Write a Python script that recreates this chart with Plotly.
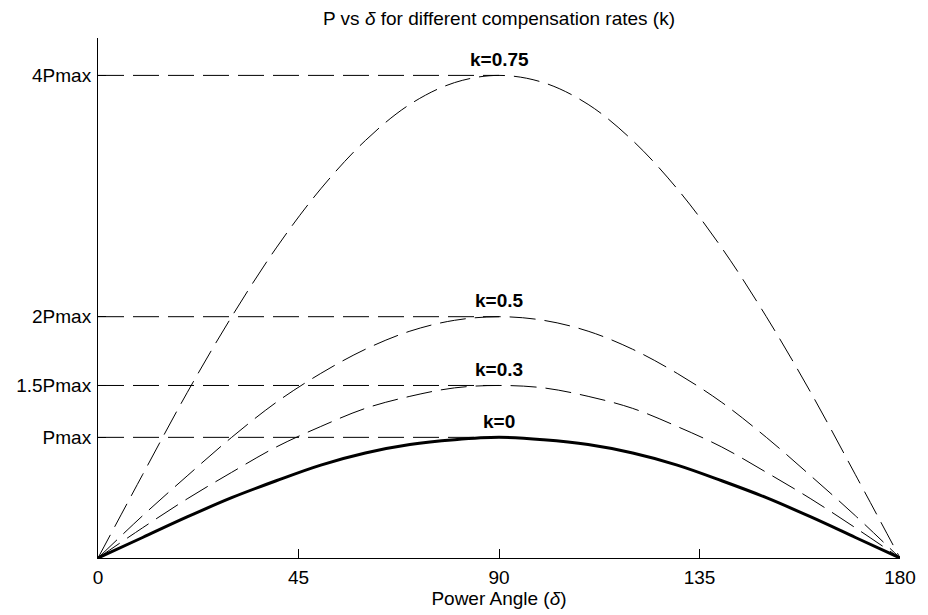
import plotly.graph_objects as go

# Power angle samples (degrees)
delta = [0, 10, 20, 30, 40, 50, 60, 70, 80, 90, 100, 110, 120, 130, 140, 150, 160, 170, 180]

# Power curves (in units of Pmax of the uncompensated line)
p_k0 = [0, 0.17, 0.34, 0.50, 0.64, 0.77, 0.87, 0.94, 0.98, 1.00,
        0.98, 0.94, 0.87, 0.77, 0.64, 0.50, 0.34, 0.17, 0]
p_k03 = [0, 0.25, 0.49, 0.71, 0.92, 1.09, 1.24, 1.34, 1.41, 1.43,
         1.41, 1.34, 1.24, 1.09, 0.92, 0.71, 0.49, 0.25, 0]
p_k05 = [0, 0.35, 0.68, 1.00, 1.29, 1.53, 1.73, 1.88, 1.97, 2.00,
         1.97, 1.88, 1.73, 1.53, 1.29, 1.00, 0.68, 0.35, 0]
p_k075 = [0, 0.69, 1.37, 2.00, 2.57, 3.06, 3.46, 3.76, 3.94, 4.00,
          3.94, 3.76, 3.46, 3.06, 2.57, 2.00, 1.37, 0.69, 0]

curve_labels = ["k=0", "k=0.3", "k=0.5", "k=0.75"]
peak_values = [1.00, 1.43, 2.00, 4.00]
ytick_labels = ["Pmax", "1.5Pmax", "2Pmax", "4Pmax"]
xtick_values = [0, 45, 90, 135, 180]
y_max = 4.31

FONT = "Liberation Sans"

fig = go.Figure()

# Horizontal reference lines from delta=0 to delta=90 at each peak
for pv in peak_values:
    fig.add_trace(go.Scatter(x=[0, 90], y=[pv, pv], mode="lines",
                             line=dict(color="black", width=1, dash="26px,9px"),
                             hoverinfo="skip", showlegend=False))

for ys in [p_k03, p_k05, p_k075]:
    fig.add_trace(go.Scatter(x=delta, y=ys, mode="lines",
                             line=dict(color="black", width=1, dash="26px,9px", shape="spline"),
                             showlegend=False))

fig.add_trace(go.Scatter(x=delta, y=p_k0, mode="lines",
                         line=dict(color="black", width=3, shape="spline"),
                         showlegend=False))

for lab, pv in zip(curve_labels, peak_values):
    fig.add_annotation(x=90, y=pv, text="<b>" + lab + "</b>", showarrow=False,
                       yshift=16, font=dict(size=19, color="black", family=FONT))

fig.update_layout(
    width=928, height=615,
    margin=dict(l=98, r=25, t=38, b=53),
    paper_bgcolor="white", plot_bgcolor="white",
    font=dict(family=FONT, size=19, color="black"),
    title=dict(text="P vs <i>δ</i> for different compensation rates (k)",
               x=0.5, xref="paper", xanchor="center", y=1 - 18 / 615, yanchor="middle",
               font=dict(size=19, color="black")),
    showlegend=False,
)
fig.update_xaxes(range=[0, 180], tickvals=xtick_values, showline=True, linecolor="black",
                 linewidth=1, ticks="inside", ticklen=9, tickcolor="black",
                 showgrid=False, zeroline=False, mirror=False, ticklabelstandoff=2,
                 title=dict(text="Power Angle (<i>δ</i>)", standoff=2, font=dict(size=19)))
fig.update_yaxes(range=[0, y_max], tickvals=peak_values, ticktext=ytick_labels,
                 showline=True, linecolor="black", linewidth=1, ticks="inside", ticklen=8,
                 tickcolor="black", showgrid=False, zeroline=False, ticklabelstandoff=2)

fig.write_html("out.html")
